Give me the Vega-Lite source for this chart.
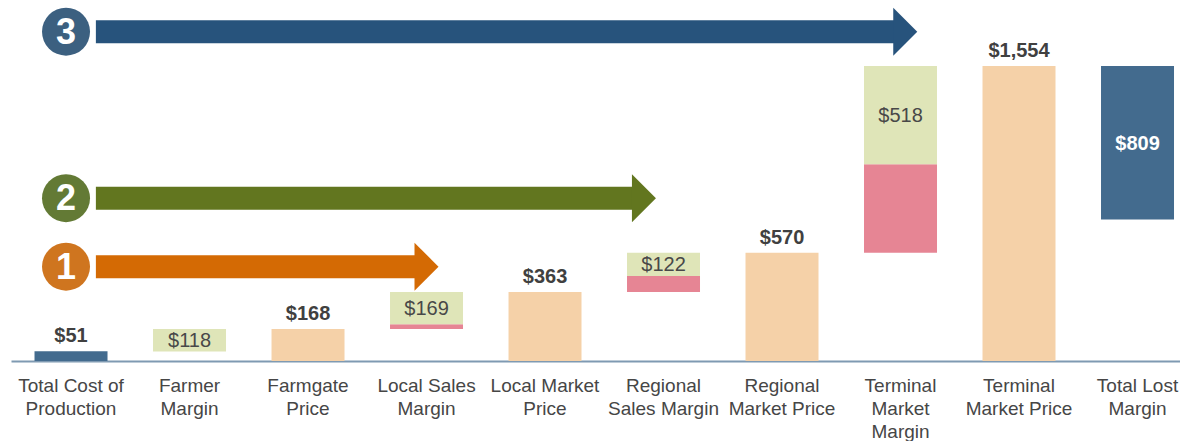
{
  "$schema": "https://vega.github.io/schema/vega-lite/v6.json",
  "width": 1169,
  "height": 361,
  "padding": {"left": 11, "top": 0, "right": 0, "bottom": 0},
  "background": "white",
  "config": {"view": {"stroke": null}, "font": "Liberation Sans"},
  "datasets": {
    "bars": [
      {"category": "Total Cost of\nProduction", "segment": "Cost", "start": 0, "end": 51, "label": "$51"},
      {"category": "Farmer\nMargin", "segment": "Margin", "start": 50, "end": 168, "label": "$118"},
      {"category": "Farmgate\nPrice", "segment": "Price", "start": 0, "end": 168, "label": "$168"},
      {"category": "Local Sales\nMargin", "segment": "Lost margin", "start": 168, "end": 194, "label": ""},
      {"category": "Local Sales\nMargin", "segment": "Margin", "start": 194, "end": 363, "label": "$169"},
      {"category": "Local Market\nPrice", "segment": "Price", "start": 0, "end": 363, "label": "$363"},
      {"category": "Regional\nSales Margin", "segment": "Lost margin", "start": 363, "end": 448, "label": ""},
      {"category": "Regional\nSales Margin", "segment": "Margin", "start": 448, "end": 570, "label": "$122"},
      {"category": "Regional\nMarket Price", "segment": "Price", "start": 0, "end": 570, "label": "$570"},
      {"category": "Terminal\nMarket\nMargin", "segment": "Lost margin", "start": 570, "end": 1036, "label": ""},
      {"category": "Terminal\nMarket\nMargin", "segment": "Margin", "start": 1036, "end": 1554, "label": "$518"},
      {"category": "Terminal\nMarket Price", "segment": "Price", "start": 0, "end": 1554, "label": "$1,554"},
      {"category": "Total Lost\nMargin", "segment": "Total lost", "start": 745, "end": 1554, "label": "$809"}
    ],
    "stages": [
      {"stage": "1", "badge": -0.042, "from": 0.21, "to": 3.0, "level": 497},
      {"stage": "2", "badge": -0.042, "from": 0.21, "to": 4.835, "level": 858},
      {"stage": "3", "badge": -0.042, "from": 0.21, "to": 7.04, "level": 1735}
    ]
  },
  "layer": [
    {
      "data": {"name": "bars"},
      "layer": [
        {
          "mark": {"type": "bar"},
          "encoding": {
            "x": {
              "field": "category",
              "type": "nominal",
              "sort": null,
              "scale": {"type": "band", "paddingInner": 0.384, "paddingOuter": 0.1245, "align": 0.797},
              "axis": {
                "title": null,
                "labelAngle": 0,
                "labelExpr": "split(datum.value, '\\n')",
                "labelFont": "Liberation Sans",
                "labelFontSize": 19,
                "labelColor": "#464646",
                "labelLineHeight": 23,
                "labelPadding": 15,
                "labelBaseline": "top",
                "ticks": false,
                "domainColor": "#7f9ab2",
                "domainWidth": 2,
                "labelOverlap": false,
                "labelLimit": 300,
                "grid": false
              }
            },
            "y": {"field": "start", "type": "quantitative", "scale": {"domain": [0, 1902], "nice": false, "zero": true}, "axis": null},
            "y2": {"field": "end"},
            "color": {
              "field": "segment",
              "type": "nominal",
              "scale": {
                "domain": ["Cost", "Margin", "Lost margin", "Price", "Total lost"],
                "range": ["#436b8e", "#dfe5b8", "#e68594", "#f5d1a8", "#436b8e"]
              },
              "legend": null
            }
          }
        },
        {
          "transform": [{"filter": "datum.segment === 'Cost' || datum.segment === 'Price'"}],
          "mark": {"type": "text", "fontSize": 20, "fontWeight": "bold", "color": "#404040", "baseline": "alphabetic", "dy": -9},
          "encoding": {
            "x": {"field": "category", "type": "nominal", "sort": null},
            "y": {"field": "end", "type": "quantitative"},
            "text": {"field": "label"}
          }
        },
        {
          "transform": [
            {"filter": "datum.segment === 'Margin'"},
            {"fold": ["start", "end"], "as": ["edge", "value"]}
          ],
          "mark": {"type": "text", "fontSize": 20, "color": "#484848", "baseline": "middle", "dy": 1},
          "encoding": {
            "x": {"field": "category", "type": "nominal", "sort": null},
            "y": {"field": "value", "type": "quantitative", "aggregate": "mean"},
            "text": {"field": "label"}
          }
        },
        {
          "transform": [
            {"filter": "datum.segment === 'Total lost'"},
            {"fold": ["start", "end"], "as": ["edge", "value"]}
          ],
          "mark": {"type": "text", "fontSize": 20, "fontWeight": "bold", "color": "white", "baseline": "middle", "dy": 1},
          "encoding": {
            "x": {"field": "category", "type": "nominal", "sort": null},
            "y": {"field": "value", "type": "quantitative", "aggregate": "mean"},
            "text": {"field": "label"}
          }
        }
      ]
    },
    {
      "data": {"name": "stages"},
      "encoding": {
        "y": {"field": "level", "type": "quantitative"}
      },
      "layer": [
        {
          "mark": {"type": "rule", "strokeWidth": 23, "strokeCap": "butt"},
          "encoding": {
            "x": {"field": "from", "type": "quantitative", "scale": {"domain": [-0.5063, 9.3587], "nice": false, "zero": false}, "axis": null},
            "x2": {"field": "to"},
            "color": {"field": "stage", "type": "nominal", "scale": {"domain": ["1", "2", "3"], "range": ["#d46a04", "#62761f", "#27537c"]}, "legend": null}
          }
        },
        {
          "mark": {"type": "point", "shape": "M-0.5,-1L0.5,0L-0.5,1Z", "size": 2304, "filled": true, "opacity": 1, "strokeWidth": 0},
          "encoding": {
            "x": {"field": "to", "type": "quantitative"},
            "color": {"field": "stage", "type": "nominal"}
          }
        },
        {
          "mark": {"type": "point", "shape": "circle", "size": 2304, "filled": true, "opacity": 1, "strokeWidth": 0},
          "encoding": {
            "x": {"field": "badge", "type": "quantitative"},
            "fill": {"field": "stage", "type": "nominal", "scale": {"domain": ["1", "2", "3"], "range": ["#cf751f", "#637a35", "#3c6080"]}, "legend": null}
          }
        },
        {
          "mark": {"type": "text", "fontSize": 36, "fontWeight": "bold", "color": "white", "baseline": "middle", "align": "center", "dy": 1},
          "encoding": {
            "x": {"field": "badge", "type": "quantitative"},
            "text": {"field": "stage"}
          }
        }
      ]
    }
  ],
  "resolve": {"scale": {"x": "independent", "color": "independent"}}
}
